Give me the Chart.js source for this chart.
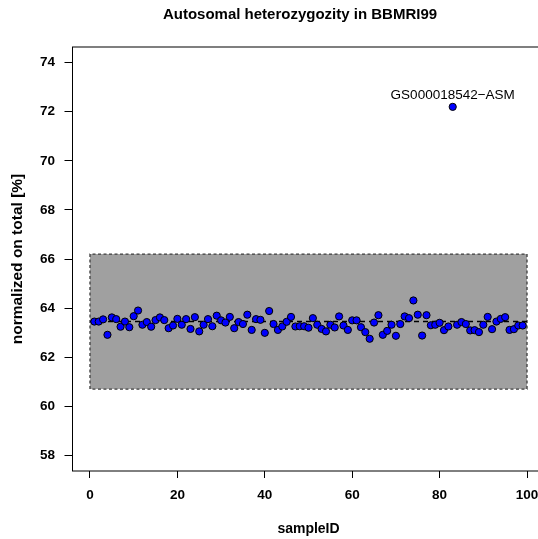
<!DOCTYPE html>
<html>
<head>
<meta charset="utf-8">
<title>Autosomal heterozygozity in BBMRI99</title>
<script src="https://cdn.jsdelivr.net/npm/chart.js@4.4.1/dist/chart.umd.min.js"></script>
<style>
  html, body { margin: 0; padding: 0; background: #fff; overflow: hidden; }
  #wrap { width: 600px; height: 539px; }
</style>
</head>
<body>
<div id="wrap"><canvas id="chartHet" width="600" height="539"></canvas></div>
<script>
const sampleIds = [
    1, 2, 3, 4, 5, 6, 7, 8, 9, 10, 11, 12, 13, 14, 15, 16, 17, 18, 19, 20,
    21, 22, 23, 24, 25, 26, 27, 28, 29, 30, 31, 32, 33, 34, 35, 36, 37, 38, 39, 40,
    41, 42, 43, 44, 45, 46, 47, 48, 49, 50, 51, 52, 53, 54, 55, 56, 57, 58, 59, 60,
    61, 62, 63, 64, 65, 66, 67, 68, 69, 70, 71, 72, 73, 74, 75, 76, 77, 78, 79, 80,
    81, 82, 83, 84, 85, 86, 87, 88, 89, 90, 91, 92, 93, 94, 95, 96, 97, 98, 99
];
const hetValues = [
    63.45, 63.45, 63.54, 62.91, 63.62, 63.55, 63.24, 63.45, 63.22, 63.67,
    63.90, 63.32, 63.43, 63.24, 63.51, 63.62, 63.51, 63.18, 63.29, 63.56,
    63.32, 63.55, 63.15, 63.63, 63.05, 63.32, 63.55, 63.26, 63.69, 63.50,
    63.41, 63.64, 63.18, 63.43, 63.35, 63.73, 63.11, 63.55, 63.52, 62.99,
    63.88, 63.35, 63.11, 63.25, 63.44, 63.64, 63.25, 63.26, 63.26, 63.20,
    63.59, 63.32, 63.15, 63.05, 63.32, 63.21, 63.66, 63.29, 63.11, 63.50,
    63.50, 63.22, 63.02, 62.75, 63.41, 63.71, 62.91, 63.07, 63.32, 62.87,
    63.35, 63.66, 63.59, 64.31, 63.73, 62.88, 63.71, 63.30, 63.32, 63.40,
    63.10, 63.25, 72.20, 63.32, 63.43, 63.35, 63.09, 63.10, 63.02, 63.32,
    63.64, 63.14, 63.45, 63.56, 63.63, 63.11, 63.14, 63.29, 63.29
];

// mean and the accepted band around it
const meanValue = 63.45;
const bandLow = 60.7;
const bandHigh = 66.2;
const bandFrom = 0;
const bandTo = 100;

// samples named next to their point
const outlierIds = [83];
const outlierNames = ['GS000018542\u2212ASM'];

const xTicks = [0, 20, 40, 60, 80, 100];
const yTicks = [58, 60, 62, 64, 66, 68, 70, 72, 74];
const xLimits = [-4, 104];
const yLimits = [57.36, 74.64];

const FONT = '"Liberation Sans", Arial, Helvetica, sans-serif';

const points = sampleIds.map((id, i) => ({ x: id, y: hetValues[i] }));
const bandShape = [
    { x: bandFrom, y: bandLow },
    { x: bandFrom, y: bandHigh },
    { x: bandTo, y: bandHigh },
    { x: bandTo, y: bandLow },
    { x: bandFrom, y: bandLow }
];
const meanLine = [{ x: bandFrom, y: meanValue }, { x: bandTo, y: meanValue }];

const frameBox = {
    id: 'frameBox',
    afterDraw(chart) {
        const { ctx, chartArea: a } = chart;
        ctx.save();
        ctx.strokeStyle = '#000';
        ctx.lineWidth = 1;
        ctx.strokeRect(a.left, a.top, a.right - a.left, a.bottom - a.top);
        ctx.restore();
    }
};

const pointNames = {
    id: 'pointNames',
    afterDatasetsDraw(chart) {
        const { ctx } = chart;
        const meta = chart.getDatasetMeta(0);
        ctx.save();
        ctx.font = '13.5px ' + FONT;
        ctx.fillStyle = '#000';
        ctx.textAlign = 'center';
        ctx.textBaseline = 'middle';
        outlierIds.forEach((id, k) => {
            const el = meta.data[sampleIds.indexOf(id)];
            if (!el) return;
            ctx.fillText(outlierNames[k], el.x, el.y - 12);
        });
        ctx.restore();
    }
};

new Chart(document.getElementById('chartHet'), {
    type: 'scatter',
    data: {
        datasets: [
            {
                label: 'samples',
                data: points,
                pointRadius: 3.6,
                pointHoverRadius: 3.6,
                pointBackgroundColor: '#0000ff',
                pointBorderColor: '#000',
                pointBorderWidth: 1
            },
            {
                type: 'line',
                label: 'mean',
                data: meanLine,
                borderColor: '#000',
                borderWidth: 1.5,
                borderDash: [5, 4],
                pointRadius: 0,
                fill: false
            },
            {
                type: 'line',
                label: 'band',
                data: bandShape,
                borderColor: '#3c3c3c',
                borderWidth: 1.3,
                borderDash: [3, 2.5],
                backgroundColor: '#a0a0a0',
                pointRadius: 0,
                tension: 0,
                fill: 'shape'
            }
        ]
    },
    options: {
        responsive: false,
        animation: false,
        events: [],
        layout: { padding: 0 },
        plugins: {
            legend: { display: false },
            tooltip: { enabled: false },
            title: {
                display: true,
                text: 'Autosomal heterozygozity in BBMRI99',
                color: '#000',
                font: { family: FONT, size: 15, weight: 'bold' },
                padding: { top: 6, bottom: 23 }
            }
        },
        scales: {
            x: {
                type: 'linear',
                min: xLimits[0],
                max: xLimits[1],
                afterBuildTicks: axis => { axis.ticks = xTicks.map(v => ({ value: v })); },
                afterFit: axis => { axis.height = 68; },
                grid: { drawOnChartArea: false, drawTicks: true, tickLength: 7, color: '#000', lineWidth: 1 },
                border: { display: false },
                ticks: {
                    color: '#000',
                    padding: 9.5,
                    font: { family: FONT, size: 13.5, weight: 'bold' }
                },
                title: {
                    display: true,
                    text: 'sampleID',
                    color: '#000',
                    font: { family: FONT, size: 14, weight: 'bold' },
                    padding: { top: 0, bottom: 1.5 }
                }
            },
            y: {
                type: 'linear',
                min: yLimits[0],
                max: yLimits[1],
                afterBuildTicks: axis => { axis.ticks = yTicks.map(v => ({ value: v })); },
                afterFit: axis => { axis.width = 72.5; },
                grid: { drawOnChartArea: false, drawTicks: true, tickLength: 8, color: '#000', lineWidth: 1 },
                border: { display: false },
                ticks: {
                    color: '#000',
                    padding: 9.5,
                    font: { family: FONT, size: 13.5, weight: 'bold' }
                },
                title: {
                    display: true,
                    text: 'normalized on total [%]',
                    color: '#000',
                    font: { family: FONT, size: 15.5, weight: 'bold' },
                    padding: { top: 8, bottom: 0 }
                }
            },
            // empty margin on the right of the frame
            yMargin: {
                type: 'linear',
                position: 'right',
                display: true,
                afterFit: axis => { axis.width = 55.5; },
                grid: { display: false },
                border: { display: false },
                ticks: { display: false }
            }
        }
    },
    plugins: [frameBox, pointNames]
});
</script>
</body>
</html>
